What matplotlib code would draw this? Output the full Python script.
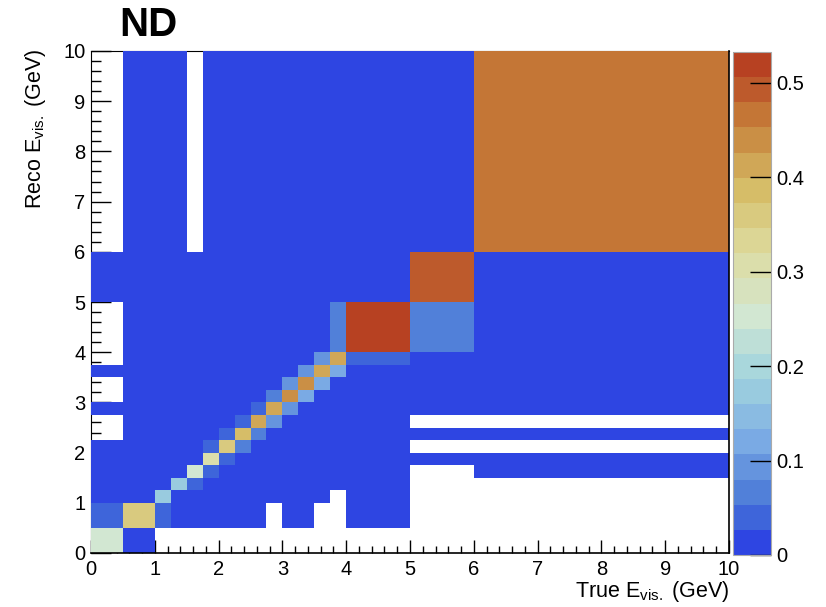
import numpy as np
import matplotlib
matplotlib.use("Agg")
import matplotlib.pyplot as plt
from matplotlib.colors import LinearSegmentedColormap, ListedColormap, BoundaryNorm
from matplotlib.ticker import MultipleLocator

plt.rcParams['font.family'] = ['Liberation Sans', 'DejaVu Sans']
plt.rcParams['mathtext.fontset'] = 'custom'
plt.rcParams['mathtext.rm'] = 'Liberation Sans'
plt.rcParams['mathtext.it'] = 'Liberation Sans'

# ---- data ----
bin_edges = [0, 0.5, 1.0, 1.25, 1.5, 1.75, 2.0, 2.25, 2.5, 2.75, 3.0,
             3.25, 3.5, 3.75, 4.0, 5.0, 6.0, 10.0]  # same for true & reco
z_max = 0.532
n_levels = 20
title = "ND"
xlabel = r"True E$_{\mathrm{vis.}}$ (GeV)"
ylabel = r"Reco E$_{\mathrm{vis.}}$ (GeV)"
cbar_ticks = [0, 0.1, 0.2, 0.3, 0.4, 0.5]

# rows: reco bins (bottom to top), columns: true bins (left to right); 0 = empty
row_00 = [0.26, 0.01, 0, 0, 0, 0, 0, 0, 0, 0, 0, 0, 0, 0, 0, 0, 0]
row_01 = [0.04, 0.36, 0.04, 0.01, 0.01, 0.01, 0.01, 0.01, 0.01, 0, 0.01, 0.01, 0, 0, 0.01, 0, 0]
row_02 = [0.01, 0.01, 0.17, 0.01, 0.01, 0.01, 0.01, 0.01, 0.01, 0.01, 0.01, 0.01, 0.01, 0, 0.01, 0, 0]
row_03 = [0.01, 0.01, 0.01, 0.17, 0.04, 0.01, 0.01, 0.01, 0.01, 0.01, 0.01, 0.01, 0.01, 0.01, 0.01, 0, 0]
row_04 = [0.01, 0.01, 0.01, 0.01, 0.25, 0.04, 0.01, 0.01, 0.01, 0.01, 0.01, 0.01, 0.01, 0.01, 0.01, 0, 0.01]
row_05 = [0.01, 0.01, 0.01, 0.01, 0.01, 0.30, 0.04, 0.01, 0.01, 0.01, 0.01, 0.01, 0.01, 0.01, 0.01, 0.01, 0.01]
row_06 = [0.01, 0.01, 0.01, 0.01, 0.01, 0.04, 0.36, 0.065, 0.01, 0.01, 0.01, 0.01, 0.01, 0.01, 0.01, 0, 0]
row_07 = [0, 0.01, 0.01, 0.01, 0.01, 0.01, 0.04, 0.385, 0.065, 0.01, 0.01, 0.01, 0.01, 0.01, 0.01, 0.01, 0.01]
row_08 = [0, 0.01, 0.01, 0.01, 0.01, 0.01, 0.01, 0.04, 0.41, 0.09, 0.01, 0.01, 0.01, 0.01, 0.01, 0, 0]
row_09 = [0.01, 0.01, 0.01, 0.01, 0.01, 0.01, 0.01, 0.01, 0.04, 0.41, 0.09, 0.01, 0.01, 0.01, 0.01, 0.01, 0.01]
row_10 = [0, 0.01, 0.01, 0.01, 0.01, 0.01, 0.01, 0.01, 0.01, 0.065, 0.44, 0.12, 0.01, 0.01, 0.01, 0.01, 0.01]
row_11 = [0, 0.01, 0.01, 0.01, 0.01, 0.01, 0.01, 0.01, 0.01, 0.01, 0.09, 0.44, 0.12, 0.01, 0.01, 0.01, 0.01]
row_12 = [0.01, 0.01, 0.01, 0.01, 0.01, 0.01, 0.01, 0.01, 0.01, 0.01, 0.01, 0.09, 0.41, 0.12, 0.01, 0.01, 0.01]
row_13 = [0, 0.01, 0.01, 0.01, 0.01, 0.01, 0.01, 0.01, 0.01, 0.01, 0.01, 0.01, 0.09, 0.41, 0.04, 0.01, 0.01]
row_14 = [0, 0.01, 0.01, 0.01, 0.01, 0.01, 0.01, 0.01, 0.01, 0.01, 0.01, 0.01, 0.01, 0.065, 0.532, 0.065, 0.01]
row_15 = [0.01, 0.01, 0.01, 0.01, 0.01, 0.01, 0.01, 0.01, 0.01, 0.01, 0.01, 0.01, 0.01, 0.01, 0.01, 0.49, 0.01]
row_16 = [0, 0.01, 0.01, 0.01, 0, 0.01, 0.01, 0.01, 0.01, 0.01, 0.01, 0.01, 0.01, 0.01, 0.01, 0.01, 0.465]

rows = [row_00, row_01, row_02, row_03, row_04, row_05, row_06, row_07, row_08,
        row_09, row_10, row_11, row_12, row_13, row_14, row_15, row_16]
Z = np.ma.masked_equal(np.array(rows, dtype=float), 0)

# ROOT kLightTemperature palette
stops_rgb = np.array([
    [31, 40, 234], [71, 117, 214], [123, 171, 228], [160, 211, 222], [210, 231, 210],
    [222, 220, 160], [214, 190, 105], [199, 132, 60], [183, 65, 34]]) / 255.0
base = LinearSegmentedColormap.from_list("lighttemp", stops_rgb, N=255)
band_cols = [base(int((i + 0.99) * 255 / n_levels) / 254.0) for i in range(n_levels)]
cmap = ListedColormap(band_cols)
levels = np.linspace(0, z_max * 1.001, n_levels + 1)
norm = BoundaryNorm(levels, n_levels)

W, H = 826, 607
fig = plt.figure(figsize=(W / 100, H / 100), dpi=100)
ax = fig.add_axes([91 / W, 1 - 553 / H, 638 / W, 502 / H])
ax.set_axisbelow(True)
mesh = ax.pcolormesh(bin_edges, bin_edges, Z, cmap=cmap, norm=norm,
                     antialiased=False, linewidth=0, zorder=1)
ax.set_xlim(0, 10)
ax.set_ylim(0, 10)

for side in ['left', 'top']:
    ax.spines[side].set_zorder(0.5)
for side in ['right', 'bottom']:
    ax.spines[side].set_zorder(3)
    ax.spines[side].set_linewidth(1.2)

ax.xaxis.set_major_locator(MultipleLocator(1))
ax.xaxis.set_minor_locator(MultipleLocator(0.2))
ax.yaxis.set_major_locator(MultipleLocator(1))
ax.yaxis.set_minor_locator(MultipleLocator(0.2))
ax.tick_params(axis='x', which='major', direction='in', length=9.5, width=1, labelsize=14.5, pad=5)
ax.tick_params(axis='x', which='minor', direction='in', length=4.8, width=1)
ax.tick_params(axis='y', which='major', direction='in', length=14.5, width=1, labelsize=14.5, pad=4)
ax.tick_params(axis='y', which='minor', direction='in', length=7.2, width=1)

fig.text(729 / W, 1 - 591 / H, xlabel, ha='right', va='center', fontsize=15.5)
fig.text(36 / W, 1 - 49 / H, ylabel, ha='center', va='top', rotation=90, fontsize=15.5)
fig.text(119 / W, 1 - 25 / H, title, ha='left', va='center', fontsize=29, fontweight='bold')

cax = fig.add_axes([733 / W, 1 - 555 / H, 38 / W, 503 / H])
cb = fig.colorbar(mesh, cax=cax, ticks=cbar_ticks)
cb.outline.set_edgecolor('#aaaaaa')
cb.outline.set_linewidth(0.8)
cax.set_ylim(0, z_max * 1.001)
cax.yaxis.set_ticks_position('right')
cax.tick_params(axis='y', which='major', direction='in', length=15, width=1, labelsize=14.5, pad=4)
cax.tick_params(axis='y', which='minor', length=0)
cax.set_yticklabels(['0', '0.1', '0.2', '0.3', '0.4', '0.5'])

fig.savefig("out.png", dpi=100)
